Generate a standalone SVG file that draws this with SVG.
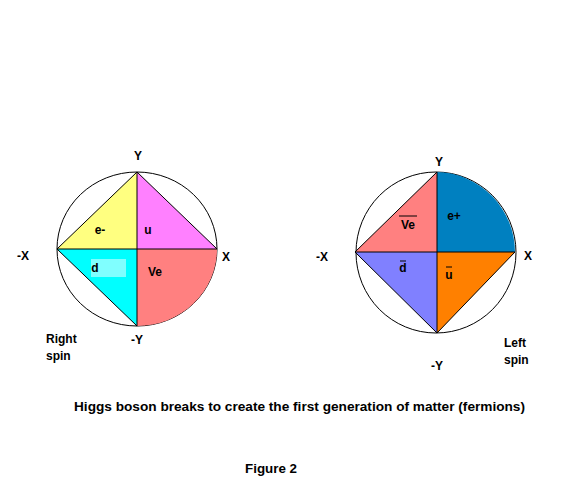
<svg xmlns="http://www.w3.org/2000/svg" width="581" height="495" viewBox="0 0 581 495">
<style>
text{font-family:"Liberation Sans",Arial,sans-serif;font-weight:bold;font-size:12px;fill:#000}
.c{text-anchor:middle}
.ln{stroke:#000;stroke-width:1;fill:none}
.ol{stroke:#000;stroke-width:1}
</style>
<rect width="581" height="495" fill="#fff"/>
<g id="right-spin">
<ellipse cx="137" cy="249" rx="80" ry="77" class="ln"/>
<path d="M137,249 L137,172 L57,249 Z" fill="#FFFF80"/>
<path d="M137,249 L137,172 L217,249 Z" fill="#FF80FF"/>
<path d="M137,249 L57,249 L137,326 Z" fill="#00FFFF"/>
<path d="M137,249 L217,249 A80,77 0 0 1 137,326 Z" fill="#FF8080"/>
<rect x="91" y="259" width="35" height="18" fill="#80FFFF"/>
<path d="M137,172 L57,249 L137,326 M137,172 L217,249 M57,249 L217,249 M137,172 L137,326" class="ln"/>
<text x="100" y="234" class="c">e-</text>
<text x="148" y="234" class="c">u</text>
<text x="95" y="272" class="c">d</text>
<text x="155" y="276" class="c">Ve</text>
<text x="138" y="160" class="c">Y</text>
<text x="23" y="260" class="c">-X</text>
<text x="226" y="261" class="c">X</text>
<text x="137" y="344" class="c">-Y</text>
<text x="46" y="343">Right</text>
<text x="46" y="360">spin</text>
</g>
<g id="left-spin">
<ellipse cx="436" cy="252.5" rx="80" ry="80.5" class="ln"/>
<path d="M437,252 L437,172 L355,252 Z" fill="#FF8080"/>
<path d="M437,252 L437,172 A80,80.5 0 0 1 515,252 Z" fill="#0080C0"/>
<path d="M437,252 L355,252 L437,333 Z" fill="#8080FF"/>
<path d="M437,252 L515,252 L437,333 Z" fill="#FF8000"/>
<path d="M437,172 L355,252 L437,333 L515,252 M355,252 L515,252 M437,172 L437,333" class="ln"/>
<text x="408" y="229" class="c">Ve</text>
<line x1="399" y1="216" x2="417" y2="216" class="ol"/>
<text x="454" y="220" class="c">e+</text>
<text x="403" y="272" class="c">d</text>
<line x1="400" y1="261" x2="406" y2="261" class="ol"/>
<text x="449" y="279" class="c">u</text>
<line x1="446" y1="267" x2="452" y2="267" class="ol"/>
<text x="439" y="166" class="c">Y</text>
<text x="322" y="261" class="c">-X</text>
<text x="528" y="260" class="c">X</text>
<text x="437" y="370" class="c">-Y</text>
<text x="504" y="347">Left</text>
<text x="504" y="364">spin</text>
</g>
<g id="captions">
<text x="74" y="411" textLength="451" lengthAdjust="spacingAndGlyphs">Higgs boson breaks to create the first generation of matter (fermions)</text>
<text x="245" y="473" textLength="52" lengthAdjust="spacingAndGlyphs">Figure 2</text>
</g>
</svg>
